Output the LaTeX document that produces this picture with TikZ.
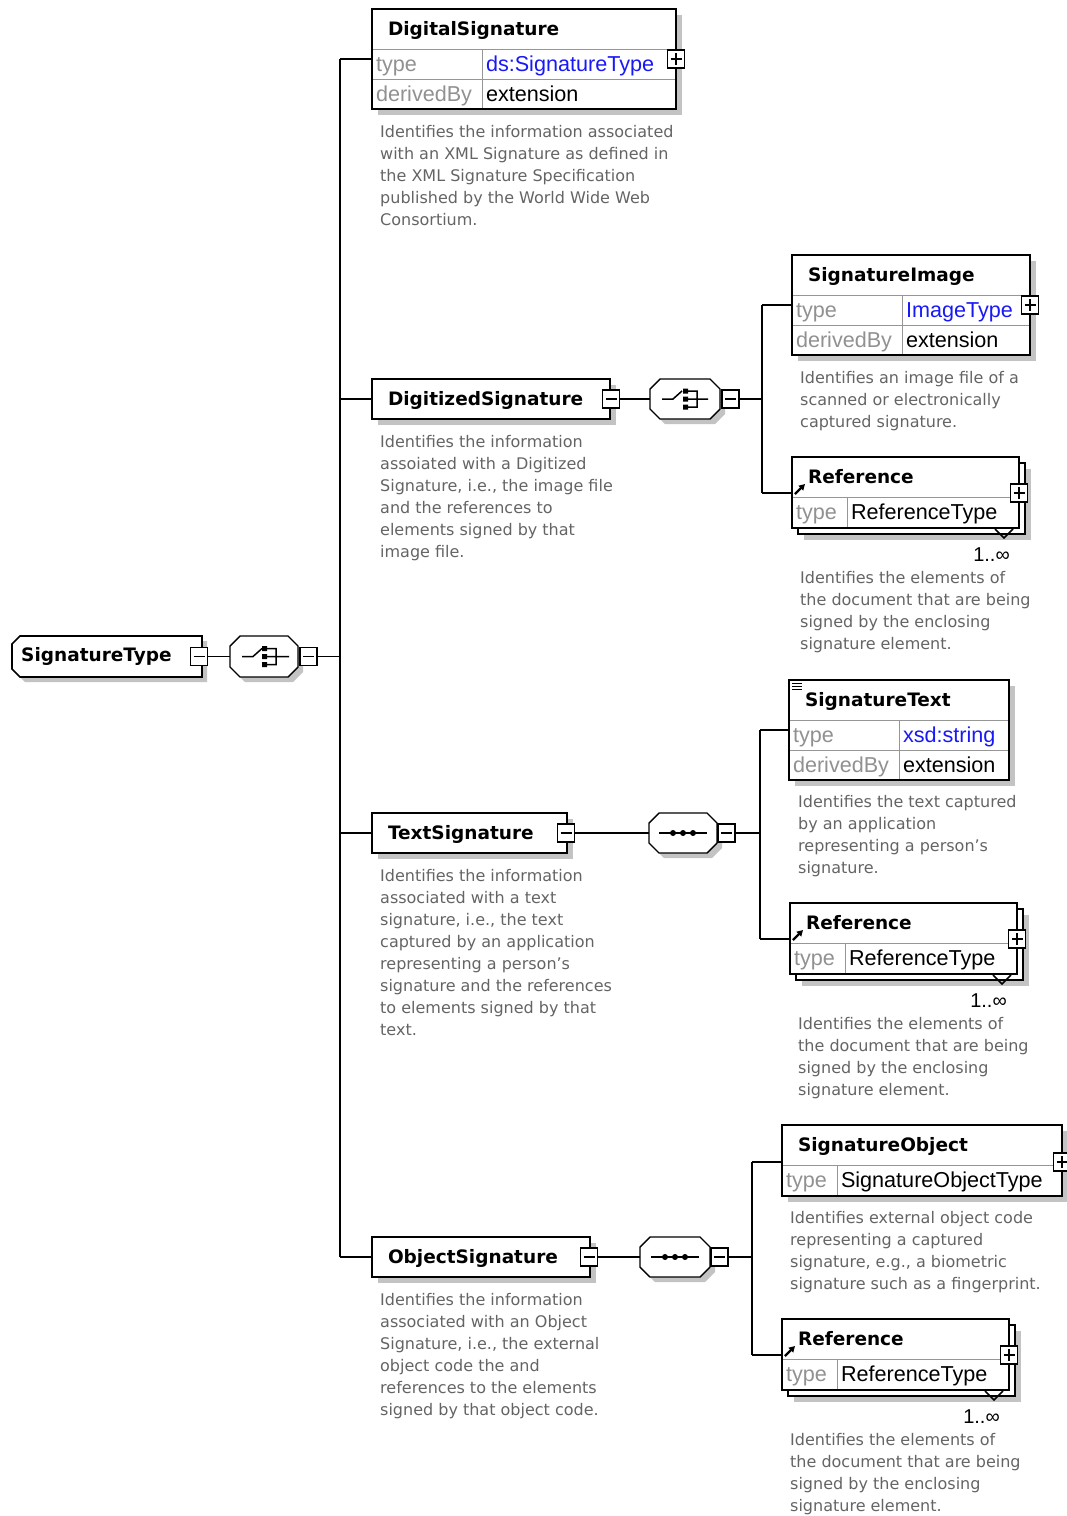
\documentclass[tikz,border=0pt]{standalone}
\usepackage{fontspec}
\setmainfont{DejaVu Sans}
\newfontfamily\rowfont{Liberation Sans}
\usetikzlibrary{arrows.meta, positioning, shadows, backgrounds}

\definecolor{shadowgray}{RGB}{195,195,195}
\definecolor{descgray}{RGB}{100,100,100}
\definecolor{keygray}{RGB}{145,145,145}
\definecolor{rowline}{RGB}{150,150,150}
\definecolor{typeblue}{RGB}{25,25,245}

\tikzset{
  shadowed/.style={drop shadow={shadow xshift=6pt, shadow yshift=-6pt, fill=shadowgray, opacity=1}},
  ttl/.style={draw=rowline, fill=white, outer sep=0, inner xsep=16, inner ysep=0,
    minimum height=40, text height=15, text depth=3, align=left, anchor=north west,
    font=\fontsize{18.5}{22}\selectfont\bfseries},
  plate/.style={ttl, draw=black, line width=1.6, shadowed},
  cell/.style={draw=rowline, fill=white, outer sep=0, inner xsep=4, inner ysep=0,
    minimum height=30, text height=17, text depth=2.5, align=left, anchor=north west,
    font=\rowfont\fontsize{21.6}{25}\selectfont},
  key/.style={cell, text=keygray},
  frame/.style={draw=black, line width=1.6},
  comp/.style={rectangle, outer sep=0, inner sep=0, minimum width=68, minimum height=40,
    anchor=north west},
  octa/.style={draw=black, line width=1.4, fill=white,
    drop shadow={shadow xshift=5pt, shadow yshift=-5pt, fill=shadowgray, opacity=1}},
  pmbox/.style={draw=black, fill=white, line width=1.2, outer sep=0, inner sep=0,
    minimum width=17, minimum height=18},
  minus/.style={pmbox, path picture={\draw[line width=1.2]
    ([xshift=3]path picture bounding box.west) -- ([xshift=-3]path picture bounding box.east);}},
  plus/.style={pmbox, path picture={\draw[line width=1.2]
    ([xshift=3]path picture bounding box.west) -- ([xshift=-3]path picture bounding box.east)
    ([yshift=3]path picture bounding box.south) -- ([yshift=-3]path picture bounding box.north);}},
  link/.style={draw=black, line width=1.4},
  icon/.style={draw=black, line width=1.5},
  refarrow/.style={draw=black, line width=2.2, -{Triangle[length=6,width=6.5]}},
  desc/.style={anchor=north west, inner sep=0, align=left, text=descgray,
    font=\fontsize{16}{22}\selectfont},
  card/.style={anchor=east, inner sep=0, font=\rowfont\fontsize{20}{22}\selectfont},
}

\begin{document}
\begin{tikzpicture}[x=1pt, y=-1pt]
\useasboundingbox (0,0) rectangle (1067,1516);

% root element and its choice
\node[comp, minimum width=190, minimum height=41] (sigtype) at (12,636) {};
\filldraw[octa, line width=1.6] ([xshift=8]sigtype.north west) -- (sigtype.north east)
  -- (sigtype.south east) -- ([xshift=8]sigtype.south west) -- ([yshift=8]sigtype.south west)
  -- ([yshift=-8]sigtype.north west) -- cycle;
\node[anchor=west, inner sep=0, font=\fontsize{18.5}{22}\selectfont\bfseries] (sigtypelbl)
  at ([xshift=9]sigtype.west) {SignatureType};
\node[minus] (sigtypem) at ([xshift=-3]sigtype.east) {};
\node[comp, minimum height=41] (rootc) at (230,636) {};
\filldraw[octa] ([xshift=10]rootc.north west) -- ([xshift=-10]rootc.north east)
  -- ([yshift=-10]rootc.north east) -- ([yshift=10]rootc.south east)
  -- ([xshift=-10]rootc.south east) -- ([xshift=10]rootc.south west)
  -- ([yshift=10]rootc.south west) -- ([yshift=-10]rootc.north west) -- cycle;
\node[minus, anchor=west] (rootcm) at ([xshift=2]rootc.east) {};
\coordinate (bus) at ([xshift=23]rootcm.east);
\draw[icon] ([xshift=-22]rootc.center) -- ++(11,0) -- ++(9,-8)
  ([xshift=3,yshift=8]rootc.center) -- ++(9,0) -- ++(0,16) -- ++(-9,0)
  ([xshift=3]rootc.center) -- ++(22,0);
\fill ([shift={(-2,-10.5)}]rootc.center) rectangle ++(5,5)
  ([shift={(-2,-2.5)}]rootc.center) rectangle ++(5,5)
  ([shift={(-2,5.5)}]rootc.center) rectangle ++(5,5);

% DigitalSignature
\node[ttl, text width=272] (ds) at (372,9) {DigitalSignature};
\node[key, text width=102] (dsk1) at (ds.south west) {type};
\node[cell, text width=186, text=typeblue] (dsv1) at (dsk1.north east) {ds:SignatureType};
\node[key, text width=102] (dsk2) at (dsk1.south west) {derivedBy};
\node[cell, text width=186] (dsv2) at (dsk2.north east) {extension};
\draw[frame] (ds.north west) rectangle (dsv2.south east);
\begin{pgfonlayer}{background}
\fill[shadowgray] ([shift={(6,6)}]ds.north west) rectangle ([shift={(6,6)}]dsv2.south east);
\end{pgfonlayer}
\node[plus] (dsp) at ([yshift=-10]ds.south east) {};
\node[desc] (dsd) at (380,125) {Identifies the information associated\\with an XML Signature as defined in\\the XML Signature Specification\\published by the World Wide Web\\Consortium.};

% DigitizedSignature
\node[plate, text width=206] (dz) at (372,379) {DigitizedSignature};
\node[minus] (dzm) at ([xshift=1]dz.east) {};
\node[comp, minimum width=70] (dzc) at (650,379) {};
\filldraw[octa] ([xshift=10]dzc.north west) -- ([xshift=-10]dzc.north east)
  -- ([yshift=-10]dzc.north east) -- ([yshift=10]dzc.south east)
  -- ([xshift=-10]dzc.south east) -- ([xshift=10]dzc.south west)
  -- ([yshift=10]dzc.south west) -- ([yshift=-10]dzc.north west) -- cycle;
\node[minus, anchor=west] (dzcm) at ([xshift=2]dzc.east) {};
\coordinate (dzbus) at ([xshift=23]dzcm.east);
\draw[icon] ([xshift=-23]dzc.center) -- ++(11,0) -- ++(9,-8)
  ([xshift=3,yshift=8]dzc.center) -- ++(9,0) -- ++(0,16) -- ++(-9,0)
  ([xshift=3]dzc.center) -- ++(20,0);
\fill ([shift={(-2,-10.5)}]dzc.center) rectangle ++(5,5)
  ([shift={(-2,-2.5)}]dzc.center) rectangle ++(5,5)
  ([shift={(-2,5.5)}]dzc.center) rectangle ++(5,5);
\node[desc] (dzd) at (380,435) {Identifies the information\\assoiated with a Digitized\\Signature, i.e., the image file\\and the references to\\elements signed by that\\image file.};

% SignatureImage
\node[ttl, text width=206] (si) at (792,255) {SignatureImage};
\node[key, text width=102] (sik1) at (si.south west) {type};
\node[cell, text width=120, text=typeblue] (siv1) at (sik1.north east) {ImageType};
\node[key, text width=102] (sik2) at (sik1.south west) {derivedBy};
\node[cell, text width=120] (siv2) at (sik2.north east) {extension};
\draw[frame] (si.north west) rectangle (siv2.south east);
\begin{pgfonlayer}{background}
\fill[shadowgray] ([shift={(6,6)}]si.north west) rectangle ([shift={(6,6)}]siv2.south east);
\end{pgfonlayer}
\node[plus] (sip) at ([yshift=-10]si.south east) {};
\node[desc] (sid) at (800,371) {Identifies an image file of a\\scanned or electronically\\captured signature.};

% Reference under DigitizedSignature
\node[plate, minimum width=227, minimum height=71] (r1back) at (798,463) {};
\node[ttl, text width=195] (r1) at (792,457) {Reference};
\node[key, text width=47, minimum height=31] (r1k) at (r1.south west) {type};
\node[cell, text width=164, minimum height=31] (r1v) at (r1k.north east) {ReferenceType};
\draw[frame] (r1.north west) rectangle (r1v.south east);
\draw[refarrow] ([shift={(3,-3)}]r1.south west) -- ++(10,-10);
\node[plus] (r1p) at ([yshift=4]r1.south east) {};
\draw[icon] ([shift={(-24,1)}]r1v.south east) -- ++(9,9) -- ++(9,-9);
\node[card] (r1n) at ([shift={(-9,27)}]r1v.south east) {1..∞};
\node[desc] (r1d) at (800,571) {Identifies the elements of\\the document that are being\\signed by the enclosing\\signature element.};

% TextSignature
\node[plate, text width=163] (ts) at (372,813) {TextSignature};
\node[minus] (tsm) at ([xshift=-1]ts.east) {};
\node[comp] (tsc) at (649,813) {};
\filldraw[octa] ([xshift=10]tsc.north west) -- ([xshift=-10]tsc.north east)
  -- ([yshift=-10]tsc.north east) -- ([yshift=10]tsc.south east)
  -- ([xshift=-10]tsc.south east) -- ([xshift=10]tsc.south west)
  -- ([yshift=10]tsc.south west) -- ([yshift=-10]tsc.north west) -- cycle;
\node[minus, anchor=west] (tscm) at ([xshift=1]tsc.east) {};
\coordinate (tsbus) at ([xshift=25]tscm.east);
\draw[icon] ([xshift=-24]tsc.center) -- ([xshift=24]tsc.center);
\fill ([xshift=-10]tsc.center) circle (3) (tsc.center) circle (3) ([xshift=10]tsc.center) circle (3);
\node[desc] (tsd) at (380,869) {Identifies the information\\associated with a text\\signature, i.e., the text\\captured by an application\\representing a person's\\signature and the references\\to elements signed by that\\text.};

% SignatureText
\node[ttl, text width=188] (st) at (789,680) {SignatureText};
\node[key, text width=102] (stk1) at (st.south west) {type};
\node[cell, text width=102, text=typeblue] (stv1) at (stk1.north east) {xsd:string};
\node[key, text width=102] (stk2) at (stk1.south west) {derivedBy};
\node[cell, text width=102] (stv2) at (stk2.north east) {extension};
\draw[frame] (st.north west) rectangle (stv2.south east);
\begin{pgfonlayer}{background}
\fill[shadowgray] ([shift={(6,6)}]st.north west) rectangle ([shift={(6,6)}]stv2.south east);
\end{pgfonlayer}
\coordinate (stc) at ([yshift=-10]st.south west);
\draw[line width=1] ([shift={(3,3)}]st.north west) -- ++(10,0)
  ([shift={(3,6)}]st.north west) -- ++(10,0) ([shift={(3,9)}]st.north west) -- ++(10,0);
\node[desc] (std) at (798,795) {Identifies the text captured\\by an application\\representing a person's\\signature.};

% Reference under TextSignature
\node[plate, minimum width=227, minimum height=71] (r2back) at (796,909) {};
\node[ttl, text width=195] (r2) at (790,903) {Reference};
\node[key, text width=47, minimum height=31] (r2k) at (r2.south west) {type};
\node[cell, text width=164, minimum height=31] (r2v) at (r2k.north east) {ReferenceType};
\draw[frame] (r2.north west) rectangle (r2v.south east);
\draw[refarrow] ([shift={(3,-3)}]r2.south west) -- ++(10,-10);
\node[plus] (r2p) at ([yshift=4]r2.south east) {};
\draw[icon] ([shift={(-24,1)}]r2v.south east) -- ++(9,9) -- ++(9,-9);
\node[card] (r2n) at ([shift={(-10,27)}]r2v.south east) {1..∞};
\node[desc] (r2d) at (798,1017) {Identifies the elements of\\the document that are being\\signed by the enclosing\\signature element.};

% ObjectSignature
\node[plate, text width=186] (osg) at (372,1237) {ObjectSignature};
\node[minus] (osgm) at ([xshift=-1]osg.east) {};
\node[comp, minimum width=70] (osc) at (640,1237) {};
\filldraw[octa] ([xshift=10]osc.north west) -- ([xshift=-10]osc.north east)
  -- ([yshift=-10]osc.north east) -- ([yshift=10]osc.south east)
  -- ([xshift=-10]osc.south east) -- ([xshift=10]osc.south west)
  -- ([yshift=10]osc.south west) -- ([yshift=-10]osc.north west) -- cycle;
\node[minus, anchor=west] (oscm) at ([xshift=1]osc.east) {};
\coordinate (osbus) at ([xshift=24]oscm.east);
\draw[icon] ([xshift=-24]osc.center) -- ([xshift=24]osc.center);
\fill ([xshift=-10]osc.center) circle (3) (osc.center) circle (3) ([xshift=10]osc.center) circle (3);
\node[desc] (osd) at (380,1293) {Identifies the information\\associated with an Object\\Signature, i.e., the external\\object code the and\\references to the elements\\signed by that object code.};

% SignatureObject
\node[ttl, text width=248] (so) at (782,1125) {SignatureObject};
\node[key, text width=47, minimum height=31] (sok) at (so.south west) {type};
\node[cell, text width=217, minimum height=31] (sov) at (sok.north east) {SignatureObjectType};
\draw[frame] (so.north west) rectangle (sov.south east);
\begin{pgfonlayer}{background}
\fill[shadowgray] ([shift={(6,6)}]so.north west) rectangle ([shift={(6,6)}]sov.south east);
\end{pgfonlayer}
\node[plus] (sop) at ([yshift=3]so.south east) {};
\node[desc] (sod) at (790,1211) {Identifies external object code\\representing a captured\\signature, e.g., a biometric\\signature such as a fingerprint.};

% Reference under ObjectSignature
\node[plate, minimum width=227, minimum height=71] (r3back) at (788,1325) {};
\node[ttl, text width=195] (r3) at (782,1319) {Reference};
\node[key, text width=47, minimum height=31] (r3k) at (r3.south west) {type};
\node[cell, text width=164, minimum height=31] (r3v) at (r3k.north east) {ReferenceType};
\draw[frame] (r3.north west) rectangle (r3v.south east);
\draw[refarrow] ([shift={(3,-3)}]r3.south west) -- ++(10,-10);
\node[plus] (r3p) at ([yshift=4]r3.south east) {};
\draw[icon] ([shift={(-24,1)}]r3v.south east) -- ++(9,9) -- ++(9,-9);
\node[card] (r3n) at ([shift={(-9,27)}]r3v.south east) {1..∞};
\node[desc] (r3d) at (790,1433) {Identifies the elements of\\the document that are being\\signed by the enclosing\\signature element.};

% connectors
\draw[link] (sigtypem) -- (rootc);
\draw[link] (rootcm) -- (bus);
\draw[link] (bus |- dsp) -- (bus |- osg);
\draw[link] (bus |- dsp) -- (ds.west |- dsp);
\draw[link] (bus |- dz) -- (dz);
\draw[link] (bus |- ts) -- (ts);
\draw[link] (bus |- osg) -- (osg);

\draw[link] (dzm) -- (dzc);
\draw[link] (dzcm) -- (dzbus);
\draw[link] (dzbus |- sip) -- (dzbus |- r1p);
\draw[link] (dzbus |- sip) -- (si.west |- sip);
\draw[link] (dzbus |- r1p) -- (r1.west |- r1p);

\draw[link] (tsm) -- (tsc);
\draw[link] (tscm) -- (tsbus);
\draw[link] (tsbus |- stc) -- (tsbus |- r2p);
\draw[link] (tsbus |- stc) -- (stc);
\draw[link] (tsbus |- r2p) -- (r2.west |- r2p);

\draw[link] (osgm) -- (osc);
\draw[link] (oscm) -- (osbus);
\draw[link] (osbus |- sop) -- (osbus |- r3p);
\draw[link] (osbus |- sop) -- (so.west |- sop);
\draw[link] (osbus |- r3p) -- (r3.west |- r3p);
\end{tikzpicture}
\end{document}
